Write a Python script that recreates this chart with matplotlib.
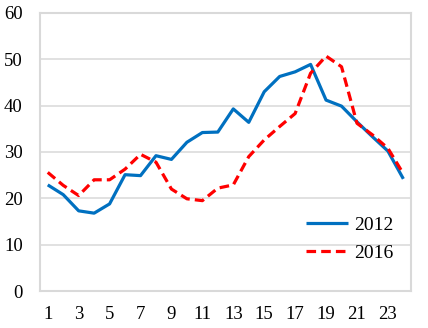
import matplotlib
matplotlib.use('Agg')
import matplotlib.pyplot as plt

hours = list(range(1, 25))
tick_labels = [str(h) for h in range(1, 25, 2)]
y2012 = [22.9, 20.8, 17.3, 16.8, 18.8, 25.1, 24.9, 29.2, 28.4, 32.1, 34.2, 34.3,
         39.3, 36.4, 43.0, 46.3, 47.3, 48.9, 41.2, 39.9, 36.5, 33.3, 30.2, 24.2]
y2016 = [25.6, 22.8, 20.6, 24.0, 24.0, 26.3, 29.5, 27.8, 22.0, 19.9, 19.5, 22.2,
         22.9, 29.0, 32.6, 35.5, 38.3, 47.0, 50.7, 48.4, 36.2, 33.7, 30.8, 25.3]

plt.rcParams['font.family'] = ['Liberation Serif', 'DejaVu Serif']

fig = plt.figure(figsize=(4.28, 3.28), dpi=100)
ax = fig.add_axes([0.0935, 0.1128, 0.867, 0.8476])

ax.plot(hours, y2012, color='#0070C0', lw=2.3, label='2012', solid_capstyle='butt', zorder=3)
ax.plot(hours, y2016, color='#FF0000', lw=2.3, ls=(0, (3.0, 1.6)), label='2016', zorder=3)

ax.set_xlim(0.5, 24.5)
ax.set_ylim(0, 60)
ax.set_yticks(range(0, 61, 10))
ax.set_xticks(range(1, 25, 2))
ax.set_xticklabels(tick_labels)
ax.tick_params(axis='both', length=0, labelsize=13.5, colors='black')
ax.tick_params(axis='y', pad=12.5)
ax.tick_params(axis='x', pad=11)
ax.grid(axis='y', color='#D9D9D9', lw=1.1)
ax.set_axisbelow(True)
for s in ax.spines.values():
    s.set_color('#D9D9D9')
    s.set_linewidth(1.5)

ax.legend(loc='center left', bbox_to_anchor=(0.716, 0.187), frameon=False,
          fontsize=14, handlelength=2.2, handletextpad=0.3, labelspacing=0.55,
          borderpad=0, borderaxespad=0)

plt.savefig('out.png', dpi=100)
